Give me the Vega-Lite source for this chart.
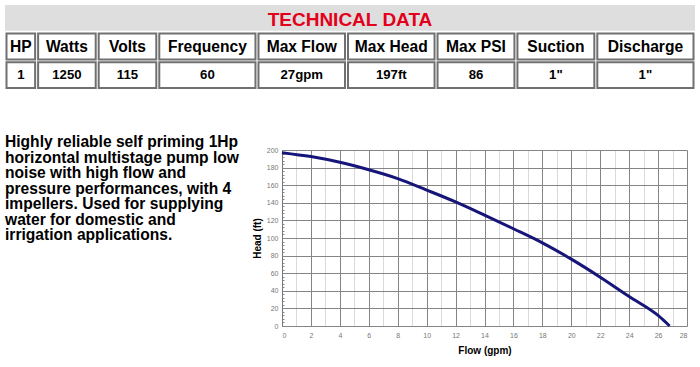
{
  "$schema": "https://vega.github.io/schema/vega-lite/v6.json",
  "padding": 5,
  "background": "white",
  "spacing": 46,
  "datasets": {
    "table": [
      {"i": 1, "col": "HP", "value": "1"},
      {"i": 2, "col": "Watts", "value": "1250"},
      {"i": 3, "col": "Volts", "value": "115"},
      {"i": 4, "col": "Frequency", "value": "60"},
      {"i": 5, "col": "Max Flow", "value": "27gpm"},
      {"i": 6, "col": "Max Head", "value": "197ft"},
      {"i": 7, "col": "Max PSI", "value": "86"},
      {"i": 8, "col": "Suction", "value": "1\""},
      {"i": 9, "col": "Discharge", "value": "1\""}
    ],
    "desc": [
      {"line": 1, "text": "Highly reliable self priming 1Hp"},
      {"line": 2, "text": "horizontal multistage pump low"},
      {"line": 3, "text": "noise with high flow and"},
      {"line": 4, "text": "pressure performances, with 4"},
      {"line": 5, "text": "impellers. Used for supplying"},
      {"line": 6, "text": "water for domestic and"},
      {"line": 7, "text": "irrigation applications."}
    ],
    "curve": [
      {"flow": 0, "head": 197},
      {"flow": 2, "head": 192.5},
      {"flow": 4, "head": 186},
      {"flow": 6, "head": 177.5},
      {"flow": 8, "head": 167.5},
      {"flow": 10, "head": 154.5},
      {"flow": 12, "head": 141},
      {"flow": 14, "head": 126},
      {"flow": 16, "head": 110.5},
      {"flow": 18, "head": 94.5},
      {"flow": 20, "head": 76},
      {"flow": 22, "head": 55.5},
      {"flow": 24, "head": 33.5},
      {"flow": 26, "head": 12},
      {"flow": 26.8, "head": 0}
    ]
  },
  "vconcat": [
    {
      "width": 690,
      "height": 83,
      "layer": [
        {
          "data": {"values": [{"t": "TECHNICAL DATA"}]},
          "layer": [
            {
              "mark": {"type": "rect", "fill": "#dedede"},
              "encoding": {
                "x": {"datum": 0, "type": "quantitative", "scale": {"domain": [0, 672], "nice": false, "zero": false}, "axis": null},
                "x2": {"datum": 672},
                "y": {"datum": "title", "type": "nominal", "scale": {"domain": ["title", "header", "value"], "paddingInner": 0.1, "paddingOuter": 0}, "axis": null}
              }
            },
            {
              "mark": {"type": "text", "font": "Liberation Sans", "fontWeight": "bold", "fontSize": 19, "color": "#e3001b", "baseline": "middle", "dy": 2},
              "encoding": {
                "x": {"datum": 336, "type": "quantitative"},
                "y": {"datum": "title", "type": "nominal"},
                "text": {"field": "t"}
              }
            }
          ]
        },
        {
          "data": {"name": "table"},
          "transform": [
            {"calculate": "12 + 9.4*length(datum.col)", "as": "w"},
            {"window": [{"op": "sum", "field": "w", "as": "end"}], "sort": [{"field": "i", "order": "ascending"}], "frame": [null, 0]},
            {"calculate": "datum.end - datum.w", "as": "start"},
            {"calculate": "(datum.start + datum.end) / 2", "as": "mid"}
          ],
          "layer": [
            {
              "mark": {"type": "rect", "fill": "white", "stroke": "#707070", "strokeWidth": 2, "xOffset": 1.5, "x2Offset": -1.5},
              "encoding": {
                "x": {"field": "start", "type": "quantitative"},
                "x2": {"field": "end"},
                "y": {"datum": "header", "type": "nominal"}
              }
            },
            {
              "mark": {"type": "rect", "fill": "white", "stroke": "#707070", "strokeWidth": 2, "xOffset": 1.5, "x2Offset": -1.5},
              "encoding": {
                "x": {"field": "start", "type": "quantitative"},
                "x2": {"field": "end"},
                "y": {"datum": "value", "type": "nominal"}
              }
            },
            {
              "mark": {"type": "text", "font": "Liberation Sans", "fontWeight": "bold", "fontSize": 15.6, "color": "black", "baseline": "middle"},
              "encoding": {
                "x": {"field": "mid", "type": "quantitative"},
                "y": {"datum": "header", "type": "nominal"},
                "text": {"field": "col"}
              }
            },
            {
              "mark": {"type": "text", "font": "Liberation Sans", "fontWeight": "bold", "fontSize": 13.2, "color": "black", "baseline": "middle"},
              "encoding": {
                "x": {"field": "mid", "type": "quantitative"},
                "y": {"datum": "value", "type": "nominal"},
                "text": {"field": "value"}
              }
            }
          ]
        }
      ]
    },
    {
      "spacing": 37,
      "bounds": "flush",
      "hconcat": [
        {
          "width": 240,
          "height": 93.3,
          "data": {"name": "desc"},
          "mark": {"type": "text", "align": "left", "baseline": "bottom", "font": "Liberation Sans", "fontWeight": "bold", "fontSize": 15.6, "color": "black"},
          "encoding": {
            "x": {"datum": 0, "type": "quantitative", "scale": {"domain": [0, 1]}, "axis": null},
            "y": {"field": "line", "type": "ordinal", "scale": {"type": "point", "padding": 0}, "axis": null},
            "text": {"field": "text"}
          }
        },
        {
          "width": 405,
          "height": 176,
          "data": {"name": "curve"},
          "mark": {"type": "line", "color": "#16167a", "strokeWidth": 3, "interpolate": "monotone"},
          "encoding": {
            "x": {
              "field": "flow",
              "type": "quantitative",
              "title": "Flow (gpm)",
              "scale": {"domain": [0, 28], "nice": false, "zero": false},
              "axis": {
                "values": [0,1,2,3,4,5,6,7,8,9,10,11,12,13,14,15,16,17,18,19,20,21,22,23,24,25,26,27,28],
                "labelExpr": "datum.value % 2 === 0 ? datum.label : ''",
                "labelOverlap": false,
                "ticks": false,
                "domain": false,
                "grid": true,
                "gridColor": {"condition": {"test": "datum.value % 2 === 0", "value": "#858585"}, "value": "#d9d9d9"},
                "gridWidth": 1,
                "labelFont": "Liberation Sans",
                "labelFontSize": 7,
                "labelColor": "#777777",
                "labelPadding": 5,
                "titleFont": "Liberation Sans",
                "titleFontSize": 10,
                "titleFontWeight": "bold",
                "titleColor": "black",
                "titlePadding": 7
              }
            },
            "y": {
              "field": "head",
              "type": "quantitative",
              "title": "Head (ft)",
              "scale": {"domain": [0, 200], "nice": false, "zero": false},
              "axis": {
                "values": [0,4,8,12,16,20,24,28,32,36,40,44,48,52,56,60,64,68,72,76,80,84,88,92,96,100,104,108,112,116,120,124,128,132,136,140,144,148,152,156,160,164,168,172,176,180,184,188,192,196,200],
                "labelExpr": "datum.value % 20 === 0 ? datum.label : ''",
                "labelOverlap": false,
                "grid": true,
                "gridColor": "#858585",
                "gridOpacity": {"condition": {"test": "datum.value % 20 === 0", "value": 1}, "value": 0},
                "ticks": true,
                "tickSize": -2,
                "tickColor": "#888888",
                "domain": true,
                "domainColor": "#777777",
                "labelFont": "Liberation Sans",
                "labelFontSize": 7,
                "labelColor": "#777777",
                "labelPadding": 6,
                "titleFont": "Liberation Sans",
                "titleFontSize": 10,
                "titleFontWeight": "bold",
                "titleColor": "black",
                "titlePadding": 4
              }
            }
          }
        }
      ]
    }
  ],
  "config": {
    "view": {"stroke": null},
    "font": "Liberation Sans"
  }
}
